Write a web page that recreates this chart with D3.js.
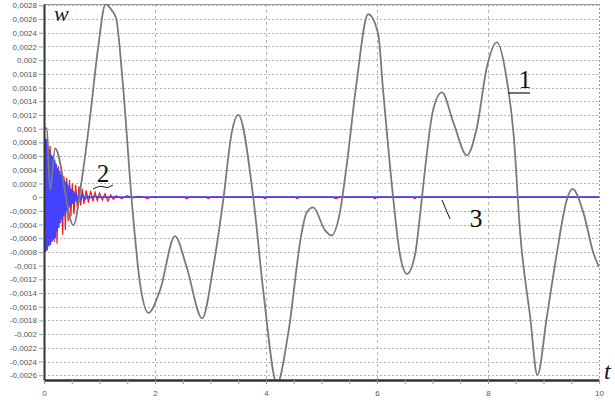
<!DOCTYPE html>
<html>
<head>
<meta charset="utf-8">
<title>w(t)</title>
<script src="https://d3js.org/d3.v7.min.js"></script>
<style>
  body { margin: 0; background: #fff; }
</style>
</head>
<body>
<div id="chart"></div>
<script>
// tick labels as on the original (comma decimals)
const yTickLabels = ["0,0028","0,0026","0,0024","0,0022","0,002","0,0018","0,0016","0,0014","0,0012","0,001",
  "0,0008","0,0006","0,0004","0,0002","0","-0,0002","-0,0004","-0,0006","-0,0008","-0,001",
  "-0,0012","-0,0014","-0,0016","-0,0018","-0,002","-0,0022","-0,0024","-0,0026"];
const xTickLabels = [0, 2, 4, 6, 8, 10];
const xGrid = [2, 4, 6, 8];

// curve 1 (grey), w in units of 1e-3
const t1 = [0, 0.05, 0.11, 0.2, 0.53, 0.68, 0.83, 0.97, 1.11, 1.22, 1.3, 1.42, 1.58, 1.73, 1.88, 2.09, 2.36, 2.57, 2.85,
  3.05, 3.23, 3.38, 3.5, 3.77, 3.95, 4.2, 4.4, 4.64, 4.73, 4.85, 5.06, 5.18, 5.33, 5.45, 5.63, 5.84, 6.02, 6.11,
  6.29, 6.41, 6.54, 6.69, 6.78, 6.87, 7.01, 7.17, 7.38, 7.62, 7.8, 7.98, 8.16, 8.34, 8.46, 8.58, 8.76, 8.89,
  9.06, 9.24, 9.42, 9.52, 9.72, 9.9, 10];
const w1 = [1.01, 1.0, 0.1, 0.71, -0.41, 0.25, 1.17, 2.15, 2.82, 2.73, 2.61, 1.66, -0.04, -1.26, -1.69, -1.36, -0.57, -1.02, -1.77,
  -1.02, -0.04, 0.93, 1.2, 0, -1.36, -2.72, -1.99, -0.53, -0.23, -0.15, -0.48, -0.56, -0.23, 0.44, 1.66, 2.67, 2.39, 1.56,
  0, -0.82, -1.12, -0.82, -0.23, 0.44, 1.27, 1.53, 1.08, 0.61, 1.02, 1.9, 2.26, 1.71, 0.93, -0.53, -1.75, -2.6,
  -1.75, -0.82, -0.04, 0.12, -0.23, -0.82, -1.02];

// curve 2 (red)
const t2 = [0, 0.015, 0.035, 0.06, 0.085, 0.11, 0.135, 0.16, 0.185, 0.21, 0.235, 0.26, 0.285, 0.31, 0.335, 0.36, 0.385,
  0.41, 0.435, 0.46, 0.485, 0.51, 0.54, 0.57, 0.6, 0.63, 0.66, 0.69, 0.72, 0.76, 0.8, 0.84, 0.88, 0.92, 0.96, 1.0,
  1.05, 1.1, 1.15, 1.2, 1.25, 1.3, 1.4, 1.5, 1.6, 1.7, 1.8, 1.86, 1.92,
  2.52, 2.57, 2.62, 2.92, 2.96, 3.0, 3.94, 3.98, 4.02, 4.52, 4.56, 4.6,
  5.2, 5.26, 5.32, 5.92, 5.96, 6.0, 6.64, 6.68, 6.72, 10];
const w2 = [0, 0.85, -0.78, 0.7, -0.5, 0.75, -0.45, 0.55, -0.65, 0.5, -0.68, 0.45, -0.3, 0.4, -0.55, 0.3, -0.48,
  0.28, -0.35, 0.25, -0.28, 0.2, -0.25, 0.18, -0.15, 0.16, -0.12, 0.12, -0.1, 0.1, -0.08, 0.09, -0.06, 0.07, -0.05, 0.06,
  -0.04, 0.05, -0.06, 0.03, -0.03, 0.02, -0.02, 0.02, -0.01, 0.01, 0, -0.02, 0,
  0, -0.02, 0, 0, -0.02, 0, 0, -0.02, 0, 0, -0.02, 0,
  0, -0.02, 0, 0, -0.02, 0, 0, -0.02, 0, 0];

// curve 3 (blue)
const t3 = [0, 0.01, 0.025, 0.04, 0.055, 0.07, 0.085, 0.1, 0.115, 0.13, 0.145, 0.16, 0.175, 0.19, 0.205, 0.22, 0.235,
  0.25, 0.265, 0.28, 0.295, 0.31, 0.325, 0.34, 0.355, 0.37, 0.385, 0.4, 0.415, 0.43, 0.445, 0.46, 0.475, 0.49, 0.51,
  0.53, 0.55, 0.57, 0.6, 0.63, 0.66, 0.7, 0.74, 0.78, 0.82, 0.9, 1.0, 10];
const w3 = [0, 0.88, -0.8, 0.85, -0.78, 0.75, -0.72, 0.7, -0.7, 0.62, -0.65, 0.6, -0.62, 0.55, -0.6, 0.48, -0.5,
  0.42, -0.45, 0.38, -0.38, 0.33, -0.33, 0.3, -0.28, 0.25, -0.24, 0.22, -0.2, 0.18, -0.16, 0.15, -0.13, 0.12, -0.1,
  0.09, -0.08, 0.07, -0.06, 0.05, -0.04, 0.03, -0.03, 0.02, -0.01, 0.01, 0, 0];

const W = 615, H = 403;
const mLeft = 44, mRight = 599, mTop = 4, mBottom = 380;

const svg = d3.select("#chart").append("svg")
  .attr("width", W).attr("height", H);

const x = d3.scaleLinear().domain([0, 10]).range([mLeft, mRight]);
const y = d3.scaleLinear().domain([-0.00267, 0.00282]).range([mBottom, mTop]);

const yVals = yTickLabels.map(s => +s.replace(",", "."));

// grid
svg.append("g").selectAll("line").data(yVals).enter().append("line")
  .attr("x1", mLeft).attr("x2", mRight)
  .attr("y1", d => Math.round(y(d)) + 0.5).attr("y2", d => Math.round(y(d)) + 0.5)
  .attr("stroke", "#b4b4b4").attr("stroke-dasharray", "2,2");
svg.append("g").selectAll("line").data(xGrid).enter().append("line")
  .attr("x1", d => Math.round(x(d)) + 0.5).attr("x2", d => Math.round(x(d)) + 0.5)
  .attr("y1", mTop).attr("y2", mBottom)
  .attr("stroke", "#b4b4b4").attr("stroke-dasharray", "3,3");

// frame: top grey, right dotted
svg.append("line").attr("x1", mLeft).attr("x2", mRight).attr("y1", mTop + 0.5).attr("y2", mTop + 0.5)
  .attr("stroke", "#999");
svg.append("line").attr("x1", mRight + 0.5).attr("x2", mRight + 0.5).attr("y1", mTop).attr("y2", mBottom)
  .attr("stroke", "#999").attr("stroke-dasharray", "2,2");

svg.append("clipPath").attr("id", "clip").append("rect")
  .attr("x", mLeft).attr("y", mTop).attr("width", mRight - mLeft).attr("height", mBottom - mTop);

const plot = svg.append("g").attr("clip-path", "url(#clip)");

function series(ts, ws) { return ts.map((t, i) => [t, ws[i] / 1000]); }

const smooth = d3.line().x(d => x(d[0])).y(d => y(d[1])).curve(d3.curveMonotoneX);
const straight = d3.line().x(d => x(d[0])).y(d => y(d[1]));

plot.append("path").datum(series(t2, w2)).attr("d", straight)
  .attr("fill", "none").attr("stroke", "#f01818").attr("stroke-width", 1.2);
plot.append("path").datum(series(t3, w3)).attr("d", straight)
  .attr("fill", "none").attr("stroke", "#4242ff").attr("stroke-width", 1.7);
plot.append("path").datum(series(t1, w1)).attr("d", smooth)
  .attr("fill", "none").attr("stroke", "#7a7a7a").attr("stroke-width", 1.8);

// axes
const yAxis = d3.axisLeft(y).tickValues(yVals).tickSize(5).tickSizeOuter(0)
  .tickFormat((d, i) => yTickLabels[i]);
const gy = svg.append("g").attr("transform", "translate(" + mLeft + ",0)").call(yAxis);
gy.select(".domain").attr("stroke", "#333").attr("stroke-width", 2);
gy.selectAll(".tick line").attr("stroke", "#8aa0c8");
gy.selectAll("text").attr("font-family", "Arial, 'Liberation Sans', sans-serif")
  .attr("font-size", "8px").attr("fill", "#555").attr("x", -7);

const xAxis = d3.axisBottom(x).tickValues(d3.range(0, 10.01, 0.5)).tickSize(4).tickSizeOuter(0)
  .tickFormat(d => xTickLabels.includes(d) ? d : "");
const gx = svg.append("g").attr("transform", "translate(0," + mBottom + ")").call(xAxis);
gx.select(".domain").attr("stroke", "#333").attr("stroke-width", 2.5);
gx.selectAll(".tick line").attr("stroke", "#999");
gx.selectAll("text").attr("font-family", "Arial, 'Liberation Sans', sans-serif")
  .attr("font-size", "8px").attr("fill", "#555").attr("dy", "1.1em");

// annotations
const serif = "'Liberation Serif', 'DejaVu Serif', serif";
svg.append("text").attr("x", 54).attr("y", 21).text("w")
  .attr("font-family", serif).attr("font-style", "italic").attr("font-size", 22).attr("fill", "#1a1a40");
svg.append("text").attr("x", 604).attr("y", 379).text("t")
  .attr("font-family", serif).attr("font-style", "italic").attr("font-size", 24).attr("fill", "#111");

svg.append("text").attr("x", 525).attr("y", 88).attr("text-anchor", "middle").text("1")
  .attr("font-family", serif).attr("font-size", 25).attr("fill", "#111");
svg.append("line").attr("x1", 508).attr("x2", 530).attr("y1", 93).attr("y2", 93)
  .attr("stroke", "#111").attr("stroke-width", 1.2);

svg.append("text").attr("x", 103).attr("y", 182).attr("text-anchor", "middle").text("2")
  .attr("font-family", serif).attr("font-size", 25).attr("fill", "#111");
svg.append("path").attr("d", "M93,189 Q100,185 104,187 T113,185")
  .attr("fill", "none").attr("stroke", "#111").attr("stroke-width", 1);

svg.append("text").attr("x", 476).attr("y", 227).attr("text-anchor", "middle").text("3")
  .attr("font-family", serif).attr("font-size", 26).attr("fill", "#111");
svg.append("line").attr("x1", 442).attr("x2", 450).attr("y1", 200).attr("y2", 219)
  .attr("stroke", "#111").attr("stroke-width", 1);
</script>
</body>
</html>
